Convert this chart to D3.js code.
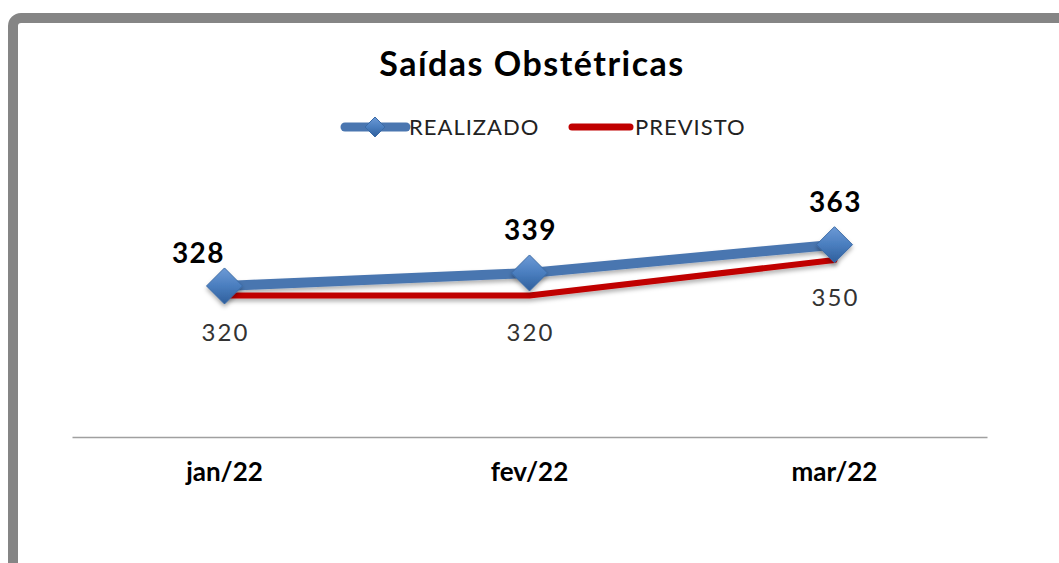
<!DOCTYPE html>
<html>
<head>
<meta charset="utf-8">
<script src="https://cdn.jsdelivr.net/npm/d3@7"></script>
<style>
  body { margin: 0; background: #fff; }
  svg { display: block; font-family: Lato, "Open Sans", sans-serif; }
</style>
</head>
<body>
<svg id="chart"></svg>
<script>
const categories = ["jan/22", "fev/22", "mar/22"];
const realizado = [328, 339, 363];
const previsto = [320, 320, 350];
const seriesNames = ["REALIZADO", "PREVISTO"];

const width = 1059, height = 563;
const svg = d3.select("#chart").attr("width", width).attr("height", height);

const defs = svg.append("defs");
const grad = defs.append("linearGradient").attr("id", "dia")
  .attr("x1", "0").attr("y1", "0").attr("x2", "0").attr("y2", "1");
grad.append("stop").attr("offset", "0%").attr("stop-color", "#6d9ad6");
grad.append("stop").attr("offset", "50%").attr("stop-color", "#4a7ebf");
grad.append("stop").attr("offset", "100%").attr("stop-color", "#2f5f9c");
const shadow = defs.append("filter").attr("id", "shd")
  .attr("x", "-20%").attr("y", "-50%").attr("width", "140%").attr("height", "200%");
shadow.append("feDropShadow").attr("dx", 0).attr("dy", 3).attr("stdDeviation", 2)
  .attr("flood-color", "#000").attr("flood-opacity", 0.3);

// outer frame
svg.append("rect")
  .attr("x", 13).attr("y", 18).attr("width", width + 40).attr("height", height + 40)
  .attr("rx", 8)
  .attr("fill", "#fff").attr("stroke", "#858585").attr("stroke-width", 10);

svg.append("text")
  .attr("x", 532).attr("y", 76)
  .attr("text-anchor", "middle")
  .attr("font-size", 34).attr("font-weight", "bold").attr("fill", "#000")
  .attr("letter-spacing", 1.5)
  .text("Saídas Obstétricas");

const x = d3.scaleBand().domain(categories).range([72, 987]);
const y = d3.scaleLinear().domain([200, 400]).range([437, 201]);
const cx = d => x(d) + x.bandwidth() / 2;

// axis
const xAxis = svg.append("g").attr("transform", "translate(0,437)")
  .call(d3.axisBottom(x).tickSize(0).tickPadding(26));
xAxis.select(".domain").attr("stroke", "#a0a0a0").attr("stroke-width", 1.5);
xAxis.selectAll("text")
  .attr("font-size", 26).attr("font-weight", "bold").attr("fill", "#000")
  .attr("font-family", "Lato, sans-serif");

const line = d3.line().x((d, i) => cx(categories[i])).y(d => y(d));

svg.append("path").datum(realizado)
  .attr("d", line).attr("fill", "none")
  .attr("stroke", "#4a76b0").attr("stroke-width", 10).attr("stroke-linejoin", "round")
  .attr("filter", "url(#shd)");

svg.append("path").datum(previsto)
  .attr("d", line).attr("fill", "none")
  .attr("stroke", "#c00000").attr("stroke-width", 6).attr("stroke-linecap", "round")
  .attr("stroke-linejoin", "round").attr("filter", "url(#shd)");

const diamond = "M0,-18L18,0L0,18L-18,0Z";
svg.selectAll(".mk").data(realizado).join("path")
  .attr("class", "mk")
  .attr("transform", (d, i) => `translate(${cx(categories[i])},${y(d)})`)
  .attr("d", diamond)
  .attr("fill", "url(#dia)").attr("stroke", "#3a6aa6").attr("stroke-width", 1)
  .attr("filter", "url(#shd)");

svg.selectAll(".lr").data(realizado).join("text")
  .attr("class", "lr")
  .attr("x", (d, i) => cx(categories[i]) + (i === 0 ? -26 : 1))
  .attr("y", (d, i) => y(d) - (i === 0 ? 23 : 33))
  .attr("text-anchor", "middle")
  .attr("font-size", 28).attr("font-weight", "bold").attr("fill", "#000")
  .attr("letter-spacing", 1.5)
  .text(d => d);

svg.selectAll(".lp").data(previsto).join("text")
  .attr("class", "lp")
  .attr("x", (d, i) => cx(categories[i]) + 1)
  .attr("y", d => y(d) + 46)
  .attr("text-anchor", "middle")
  .attr("font-size", 24).attr("fill", "#333")
  .attr("letter-spacing", 2)
  .text(d => d);

// legend
const lg = svg.append("g");
lg.append("line").attr("x1", 345).attr("x2", 406).attr("y1", 127).attr("y2", 127)
  .attr("stroke", "#4a76b0").attr("stroke-width", 9).attr("stroke-linecap", "round");
lg.append("path").attr("d", "M0,-10L10,0L0,10L-10,0Z")
  .attr("transform", "translate(375,127)")
  .attr("fill", "url(#dia)").attr("stroke", "#3a6aa6");
lg.append("text").attr("x", 409).attr("y", 135)
  .attr("font-size", 22).attr("fill", "#222").attr("letter-spacing", 1)
  .text(seriesNames[0]);
lg.append("line").attr("x1", 572).attr("x2", 630).attr("y1", 127).attr("y2", 127)
  .attr("stroke", "#c00000").attr("stroke-width", 7).attr("stroke-linecap", "round");
lg.append("text").attr("x", 635).attr("y", 135)
  .attr("font-size", 22).attr("fill", "#222").attr("letter-spacing", 1)
  .text(seriesNames[1]);
</script>
</body>
</html>
